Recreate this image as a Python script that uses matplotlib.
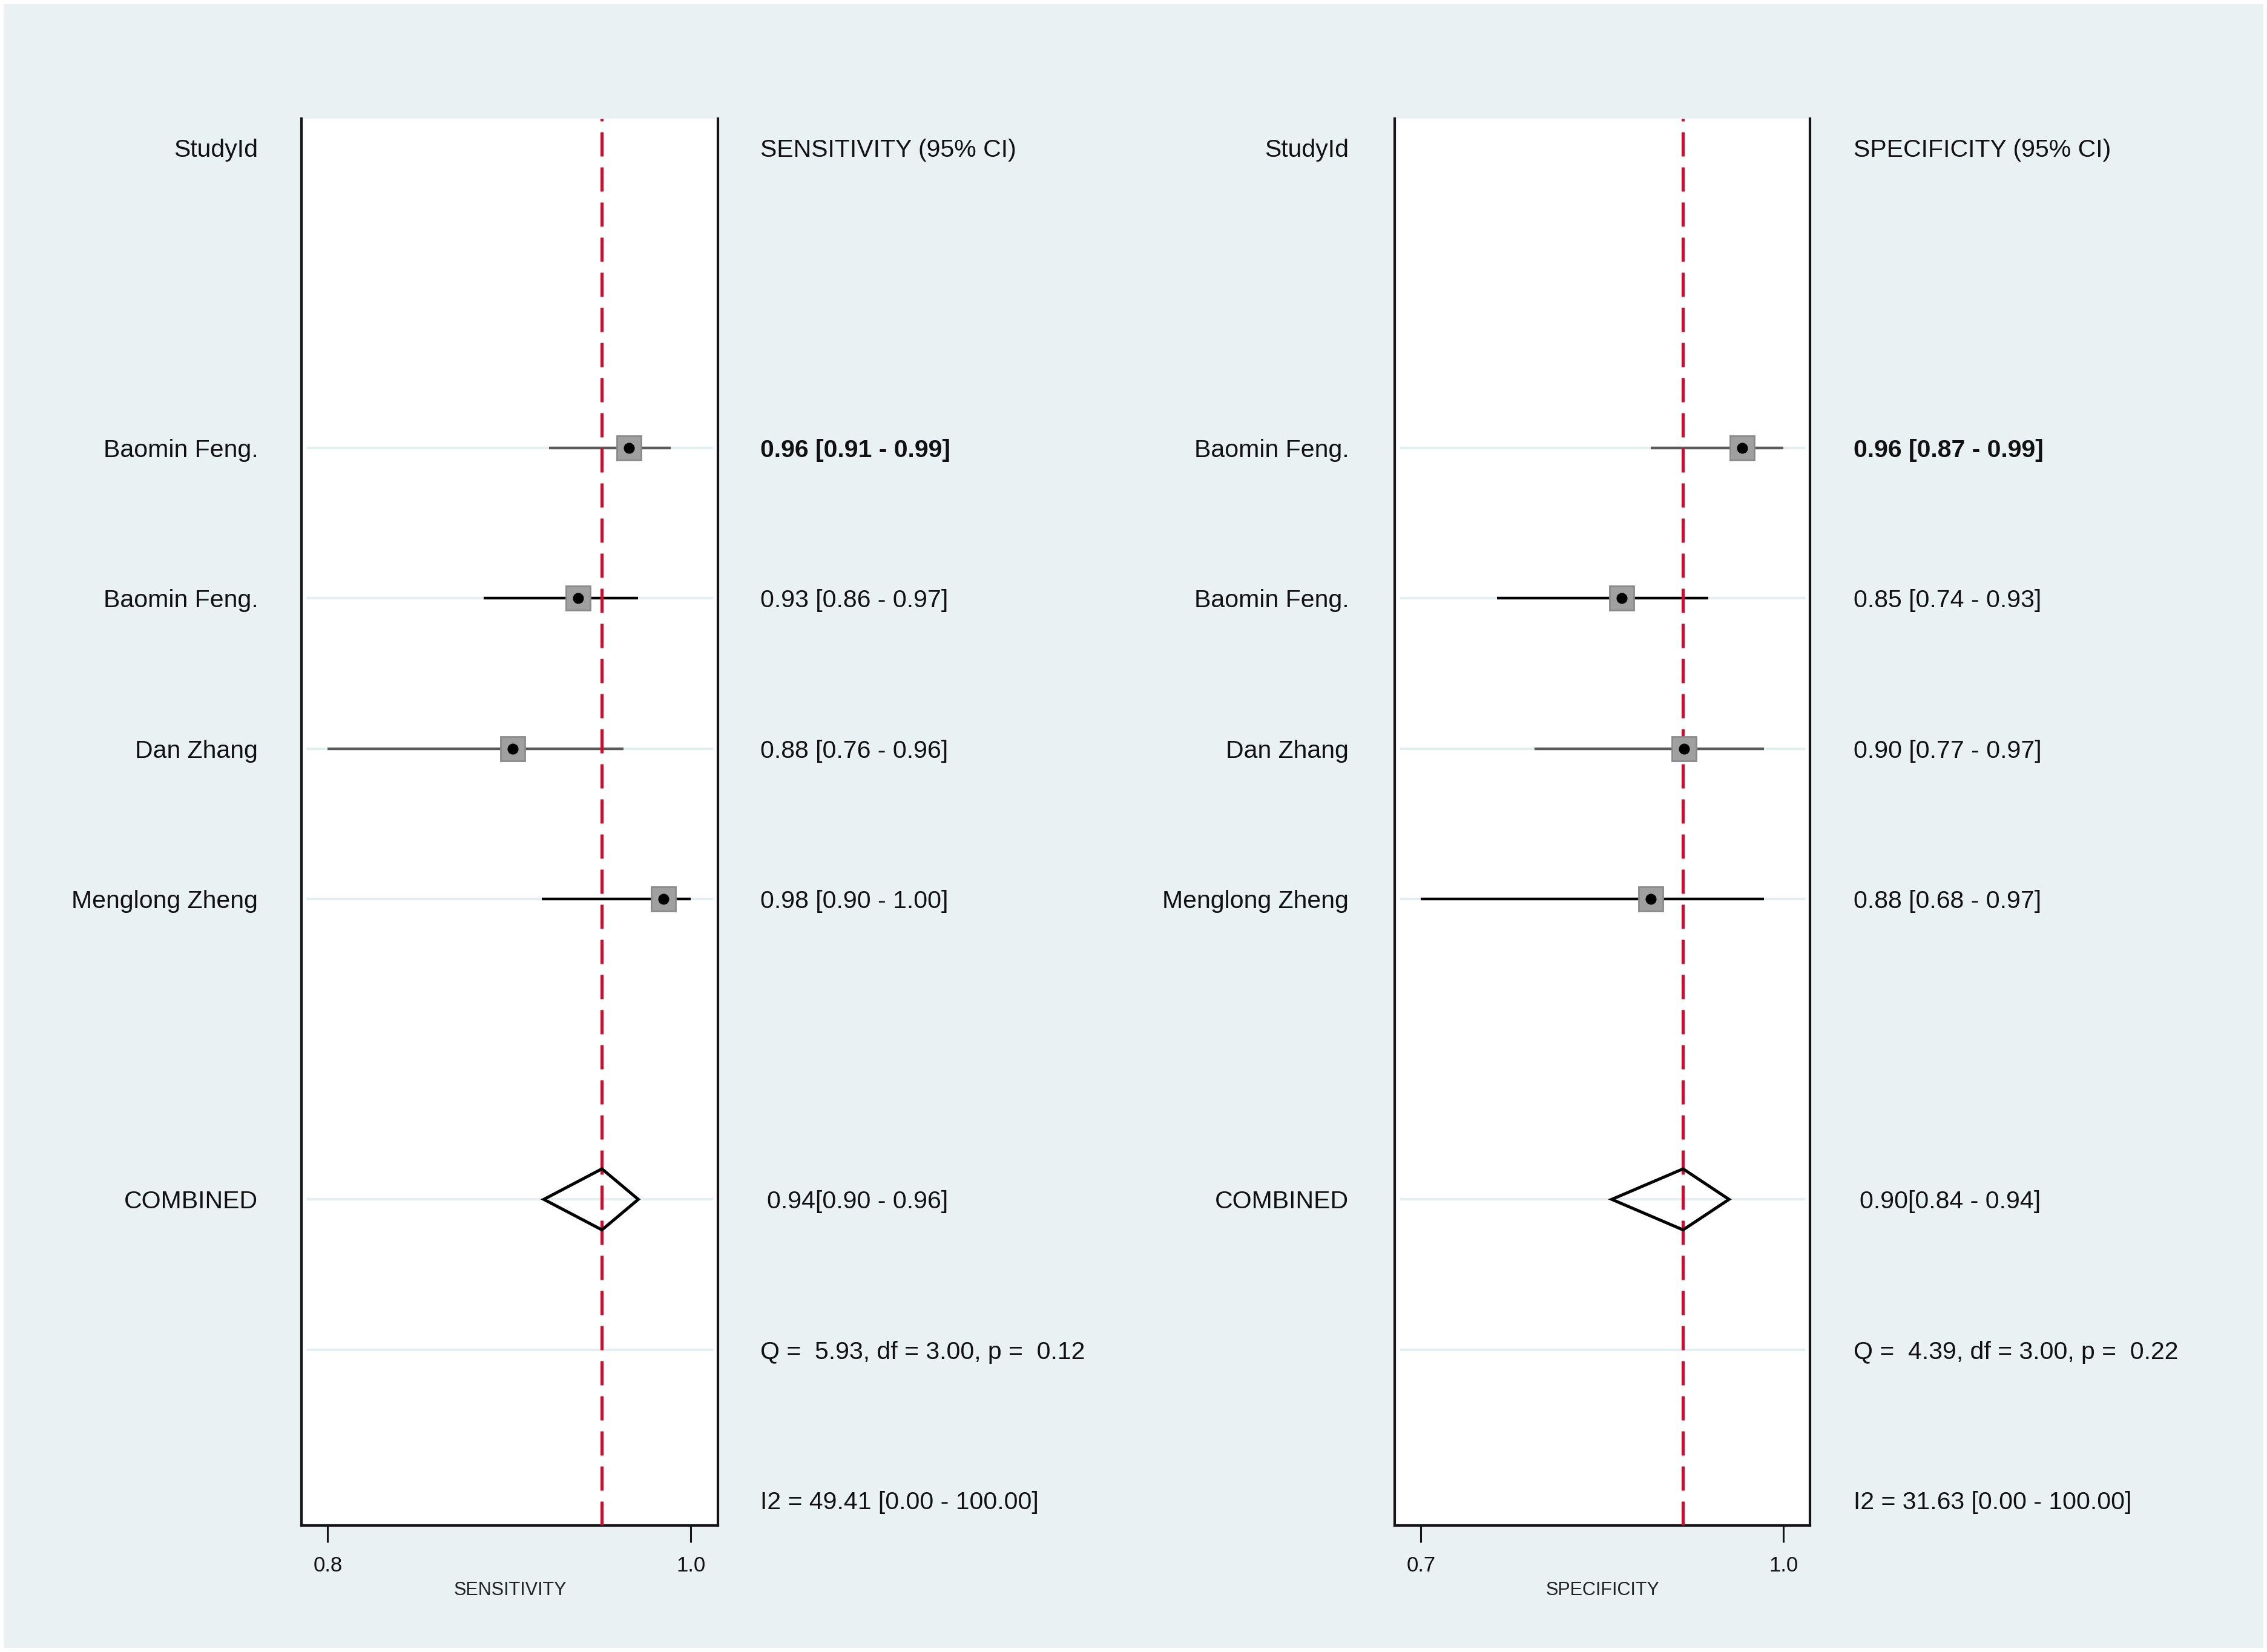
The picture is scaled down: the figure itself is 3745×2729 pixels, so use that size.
import matplotlib
matplotlib.use("Agg")
import matplotlib.pyplot as plt
from matplotlib import transforms
from matplotlib.patches import Rectangle

plt.rcParams["font.family"] = ["Liberation Sans", "DejaVu Sans"]

BG, INK, ROWLINE, RED = "#e9f1f3", "#111111", "#e4edf0", "#c8102e"

# data
studies = ["Baomin Feng.", "Baomin Feng.", "Dan Zhang", "Menglong Zheng"]

sens_est = [0.966, 0.938, 0.902, 0.985]
sens_lo = [0.922, 0.886, 0.800, 0.918]
sens_hi = [0.989, 0.971, 0.963, 1.000]
sens_pool = [0.919, 0.951, 0.971]   # lo, est, hi
sens_text = ["0.96 [0.91 - 0.99]", "0.93 [0.86 - 0.97]",
             "0.88 [0.76 - 0.96]", "0.98 [0.90 - 1.00]"]
sens_pool_text = "0.94[0.90 - 0.96]"
sens_q = "Q =  5.93, df = 3.00, p =  0.12"
sens_i2 = "I2 = 49.41 [0.00 - 100.00]"

spec_est = [0.966, 0.866, 0.918, 0.890]
spec_lo = [0.890, 0.763, 0.794, 0.700]
spec_hi = [1.000, 0.938, 0.984, 0.984]
spec_pool = [0.858, 0.917, 0.955]
spec_text = ["0.96 [0.87 - 0.99]", "0.85 [0.74 - 0.93]",
             "0.90 [0.77 - 0.97]", "0.88 [0.68 - 0.97]"]
spec_pool_text = "0.90[0.84 - 0.94]"
spec_q = "Q =  4.39, df = 3.00, p =  0.22"
spec_i2 = "I2 = 31.63 [0.00 - 100.00]"

rows = [2, 3, 4, 5]
whisk_col = ["#5a5a5a", "#000000", "#5a5a5a", "#000000"]

fig = plt.figure(figsize=(37.45, 27.29), dpi=100)
fig.patch.set_facecolor("white")
fig.patches.append(Rectangle((0.0016, 0.0026), 0.9968, 0.9948, transform=fig.transFigure,
                             facecolor=BG, edgecolor="none", zorder=-10))

FS = 29.5
VA = "center_baseline"


def panel(x0, x1, lab_x, txt_x, xlim, ticks, xlabel, header,
          est, lo, hi, pool, txt, pool_txt, qtxt, i2txt):
    ax = fig.add_axes([x0, 0.0766, x1 - x0, 0.8514])
    ax.set_facecolor("white")
    ax.set_xlim(*xlim)
    ax.set_ylim(9.17, -0.19)
    ax.spines["top"].set_visible(False)
    for s in ("left", "right", "bottom"):
        ax.spines[s].set_linewidth(3.0)
        ax.spines[s].set_color("#151515")
    ax.set_yticks([])
    ax.set_xticks(ticks)
    ax.set_xticklabels([f"{t:.1f}" for t in ticks])
    ax.tick_params(axis="x", length=20, width=2.2, pad=16, labelsize=25,
                   color="#151515", labelcolor=INK)

    for r in rows + [7, 8]:
        ax.axhline(r, 0.015, 0.985, color=ROWLINE, lw=3, zorder=1)

    for i, r in enumerate(rows):
        ax.plot([lo[i], hi[i]], [r, r], color=whisk_col[i], lw=3.2,
                solid_capstyle="butt", zorder=2)
    ax.axvline(pool[1], color=RED, lw=3.6, linestyle=(0, (8, 3.6)), zorder=3)
    ax.plot(est, rows, linestyle="none", marker="s", markersize=29,
            markerfacecolor="#a0a0a0", markeredgecolor="#8a8a8a",
            markeredgewidth=2, zorder=4)
    ax.plot(est, rows, linestyle="none", marker="o", markersize=12,
            color="black", zorder=5)
    h = 0.203
    ax.fill([pool[0], pool[1], pool[2], pool[1]], [7, 7 - h, 7, 7 + h],
            facecolor="none", edgecolor="black", lw=3.6, joinstyle="miter", zorder=6)

    tr = transforms.blended_transform_factory(fig.transFigure, ax.transData)
    ax.text(lab_x, 0, "StudyId", transform=tr, ha="right", va=VA,
            fontsize=FS, color=INK)
    ax.text(txt_x, 0, header, transform=tr, ha="left", va=VA,
            fontsize=FS, color=INK)
    for i, r in enumerate(rows):
        ax.text(lab_x, r, studies[i], transform=tr, ha="right", va=VA,
                fontsize=FS, color=INK)
        ax.text(txt_x, r, txt[i], transform=tr, ha="left", va=VA,
                fontsize=FS, color=INK, fontweight="bold" if i == 0 else "normal")
    ax.text(lab_x, 7, "COMBINED", transform=tr, ha="right", va=VA,
            fontsize=FS, color=INK)
    ax.text(txt_x + 0.0027, 7, pool_txt, transform=tr, ha="left", va=VA,
            fontsize=FS, color=INK)
    ax.text(txt_x, 8, qtxt, transform=tr, ha="left", va=VA,
            fontsize=FS, color=INK)
    ax.text(txt_x, 9, i2txt, transform=tr, ha="left", va=VA,
            fontsize=FS, color=INK)
    ax.text(0.5, -0.046, xlabel, transform=ax.transAxes, ha="center", va="center",
            fontsize=22, color="#222222")
    return ax


panel(0.1331, 0.3168, 0.1138, 0.3355, (0.7857, 1.015), [0.8, 1.0], "SENSITIVITY",
      "SENSITIVITY (95% CI)", sens_est, sens_lo, sens_hi, sens_pool,
      sens_text, sens_pool_text, sens_q, sens_i2)
panel(0.6153, 0.7984, 0.5950, 0.8175, (0.6785, 1.022), [0.7, 1.0], "SPECIFICITY",
      "SPECIFICITY (95% CI)", spec_est, spec_lo, spec_hi, spec_pool,
      spec_text, spec_pool_text, spec_q, spec_i2)

fig.savefig("out.png", dpi=100, facecolor="white")
